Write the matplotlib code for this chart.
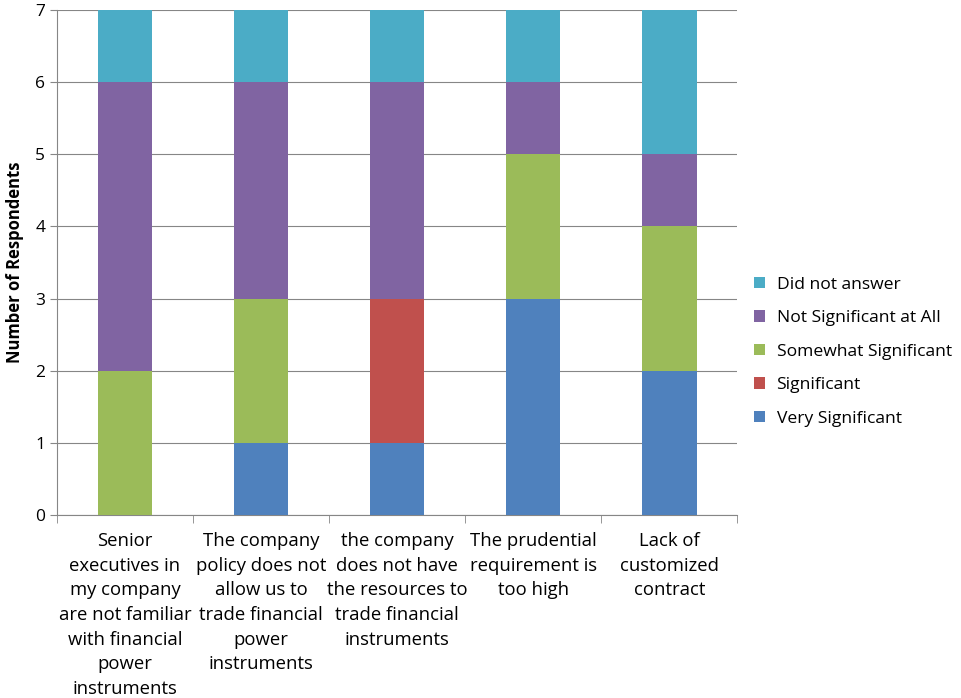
import matplotlib
matplotlib.use("Agg")
import matplotlib.pyplot as plt
import numpy as np

plt.rcParams['font.family'] = ['Open Sans', 'DejaVu Sans']

categories = [
    "Senior\nexecutives in\nmy company\nare not familiar\nwith financial\npower\ninstruments",
    "The company\npolicy does not\nallow us to\ntrade financial\npower\ninstruments",
    "the company\ndoes not have\nthe resources to\ntrade financial\ninstruments",
    "The prudential\nrequirement is\ntoo high",
    "Lack of\ncustomized\ncontract",
]
very_significant = [0, 1, 1, 3, 2]
significant = [0, 0, 2, 0, 0]
somewhat_significant = [2, 2, 0, 2, 2]
not_significant = [4, 3, 3, 1, 1]
did_not_answer = [1, 1, 1, 1, 2]

series = [
    ("Very Significant", very_significant, "#4F81BD"),
    ("Significant", significant, "#C0504D"),
    ("Somewhat Significant", somewhat_significant, "#9BBB59"),
    ("Not Significant at All", not_significant, "#8064A2"),
    ("Did not answer", did_not_answer, "#4BACC6"),
]

fig = plt.figure(figsize=(9.61, 6.98), dpi=100)
ax = fig.add_axes([0.0593, 0.262, 0.708, 0.724])

x = np.arange(len(categories))
bottom = np.zeros(len(categories))
for name, vals, color in series:
    ax.bar(x, vals, width=0.4, bottom=bottom, color=color, label=name, zorder=3)
    bottom += np.array(vals)

ax.set_xlim(-0.5, len(categories) - 0.5)
ax.set_ylim(0, 7)
ax.set_yticks(range(8))
ax.yaxis.grid(True, color="#868686", linewidth=0.8, zorder=0)

# category labels centred, tick marks between categories
ax.set_xticks(x)
ax.set_xticklabels(categories, fontsize=13.3, linespacing=1.48, va="top")
ax.tick_params(axis="x", length=0, pad=12)
ax.set_xticks(np.arange(-0.5, len(categories)), minor=True)
ax.tick_params(axis="x", which="minor", length=6, color="#868686")
ax.tick_params(axis="y", labelsize=12.5, length=5, color="#868686")

for side in ["top", "right"]:
    ax.spines[side].set_visible(False)
ax.spines["left"].set_color("#868686")
ax.spines["bottom"].set_color("#868686")

ax.set_ylabel("Number of Respondents", fontsize=12, fontweight="bold", labelpad=8)

handles, labels = ax.get_legend_handles_labels()
fig.legend(handles[::-1], labels[::-1], loc="center left",
           bbox_to_anchor=(0.768, 0.496), frameon=False, fontsize=12.6,
           handlelength=0.65, handleheight=0.65, labelspacing=1.0,
           handletextpad=0.65)

fig.savefig("out.png", dpi=100)
